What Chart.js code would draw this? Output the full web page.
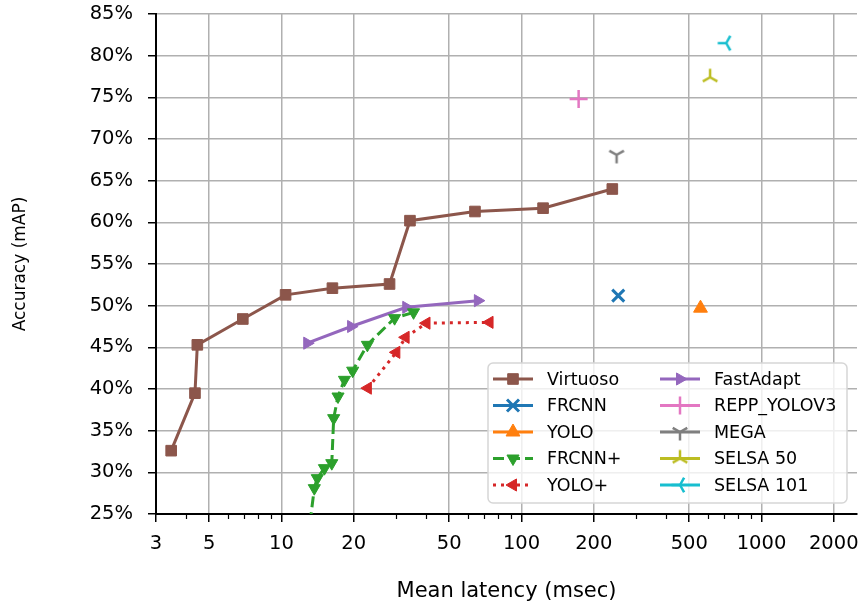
<!DOCTYPE html>
<html>
<head>
<meta charset="utf-8">
<script src="https://cdn.jsdelivr.net/npm/chart.js@4.4.0/dist/chart.umd.min.js"></script>
<style>
  html, body { margin: 0; padding: 0; background: #fff; }
  #wrap { width: 860px; height: 608px; }
</style>
</head>
<body>
<div id="wrap"><canvas id="myChart" width="860" height="608"></canvas></div>
<script>
// latency in msec, accuracy in % mAP
const virtuosoLatency = [3.47, 4.36, 4.46, 6.9, 10.4, 16.3, 28.2, 34.3, 64, 123, 239];
const virtuosoMap = [32.6, 39.5, 45.3, 48.4, 51.3, 52.1, 52.6, 60.2, 61.3, 61.7, 64.0];
const frcnnPlusLatency = [12.9, 13.7, 14.1, 15.1, 16.2, 16.5, 17.2, 18.3, 19.8, 22.8, 29.6, 35.5];
const frcnnPlusMap = [22.0, 28.1, 29.3, 30.5, 31.1, 36.5, 39.1, 41.1, 42.2, 45.3, 48.5, 49.2];
const yoloPlusLatency = [22.9, 30.1, 32.9, 40.2, 73.6];
const yoloPlusMap = [40.1, 44.4, 46.2, 47.9, 48.0];
const fastAdaptLatency = [12.8, 19.5, 33.1, 65.8];
const fastAdaptMap = [45.5, 47.5, 49.8, 50.6];
// single-point baselines: [latency, mAP]
const frcnn = [253, 51.2];
const yolo = [557, 49.7];
const repp = [173, 74.8];
const mega = [249, 68.1];
const selsa50 = [611, 77.4];
const selsa101 = [713, 81.5];

const xTicks = [3, 5, 10, 20, 50, 100, 200, 500, 1000, 2000];
const xMinorTicks = [4, 6, 7, 8, 9, 30, 40, 60, 70, 80, 90, 300, 400, 600, 700, 800, 900];

const FONT = 'DejaVu Sans';
Chart.defaults.font.family = FONT;
Chart.defaults.color = '#000';

function pts(xs, ys) {
	return xs.map((x, i) => ({ x: x, y: ys[i] }));
}

// matplotlib style "tri" marker (arms down / upper-left / upper-right)
function triMarker(color) {
	const c = document.createElement('canvas');
	c.width = 20; c.height = 20;
	const g = c.getContext('2d');
	g.strokeStyle = color;
	g.lineWidth = 2.5;
	g.beginPath();
	g.moveTo(10, 10); g.lineTo(10, 18.5);
	g.moveTo(10, 10); g.lineTo(10 - 7.3, 5.8);
	g.moveTo(10, 10); g.lineTo(10 + 7.3, 5.8);
	g.stroke();
	return c;
}

function series(label, color, data, opts) {
	return Object.assign({
		label: label,
		data: data,
		borderColor: color,
		backgroundColor: color,
		pointBackgroundColor: color,
		pointBorderColor: color,
		borderWidth: 3,
		pointBorderWidth: 1,
		pointRadius: 7,
		showLine: true,
		pointRotation: 0
	}, opts);
}

const datasets = [
	series('Virtuoso', '#8c564b', pts(virtuosoLatency, virtuosoMap), { pointStyle: 'rect', pointRadius: 7.5 }),
	series('FRCNN', '#1f77b4', [{ x: frcnn[0], y: frcnn[1] }], { pointStyle: 'crossRot', pointRadius: 8.5, pointBorderWidth: 3 }),
	series('YOLO', '#ff7f0e', [{ x: yolo[0], y: yolo[1] }], { pointStyle: 'triangle', pointRadius: 8 }),
	series('FRCNN+', '#2ca02c', pts(frcnnPlusLatency, frcnnPlusMap), { pointStyle: 'triangle', pointRotation: 180, borderDash: [11, 5], clip: 0 }),
	series('YOLO+', '#d62728', pts(yoloPlusLatency, yoloPlusMap), { pointStyle: 'triangle', pointRotation: -90, borderDash: [3, 5] }),
	series('FastAdapt', '#9467bd', pts(fastAdaptLatency, fastAdaptMap), { pointStyle: 'triangle', pointRotation: 90 }),
	series('REPP_YOLOV3', '#e377c2', [{ x: repp[0], y: repp[1] }], { pointStyle: 'cross', pointRadius: 9, pointBorderWidth: 2.5 }),
	series('MEGA', '#7f7f7f', [{ x: mega[0], y: mega[1] }], { pointStyle: triMarker('#7f7f7f') }),
	series('SELSA 50', '#bcbd22', [{ x: selsa50[0], y: selsa50[1] }], { pointStyle: triMarker('#bcbd22'), pointRotation: 180 }),
	series('SELSA 101', '#17becf', [{ x: selsa101[0], y: selsa101[1] }], { pointStyle: triMarker('#17becf'), pointRotation: 90 })
];

// minor tick marks on the log axis
const minorTicks = {
	id: 'minorTicks',
	afterDraw(chart) {
		const ctx = chart.ctx, xs = chart.scales.x;
		ctx.save();
		ctx.strokeStyle = '#000';
		ctx.lineWidth = 1.2;
		xMinorTicks.forEach(v => {
			const px = Math.round(xs.getPixelForValue(v)) + 0.5;
			ctx.beginPath();
			ctx.moveTo(px, xs.top);
			ctx.lineTo(px, xs.top + 5);
			ctx.stroke();
		});
		ctx.restore();
	}
};

// two-column legend inside the plot, lower right
const boxLegend = {
	id: 'boxLegend',
	afterDraw(chart) {
		const ctx = chart.ctx, area = chart.chartArea;
		const w = 359, h = 140;
		const x0 = area.right - 10 - w, y0 = area.bottom - 11 - h;
		ctx.save();
		ctx.beginPath();
		ctx.roundRect(x0, y0, w, h, 5);
		ctx.fillStyle = 'rgba(255,255,255,0.8)';
		ctx.fill();
		ctx.strokeStyle = '#d6d6d6';
		ctx.lineWidth = 1.5;
		ctx.stroke();
		ctx.font = '17.5px "' + FONT + '"';
		ctx.textBaseline = 'middle';
		chart.data.datasets.forEach((ds, i) => {
			const col = Math.floor(i / 5), row = i % 5;
			const lx = x0 + 5 + col * 167, ly = y0 + 16 + row * 26.5;
			ctx.beginPath();
			ctx.setLineDash(ds.borderDash || []);
			ctx.strokeStyle = ds.borderColor;
			ctx.lineWidth = ds.borderWidth;
			ctx.moveTo(lx, ly);
			ctx.lineTo(lx + 40, ly);
			ctx.stroke();
			ctx.setLineDash([]);
			ctx.fillStyle = ds.backgroundColor;
			ctx.lineWidth = ds.pointBorderWidth;
			Chart.helpers.drawPoint(ctx, {
				pointStyle: ds.pointStyle,
				rotation: ds.pointRotation,
				radius: ds.pointRadius,
				borderWidth: ds.pointBorderWidth
			}, lx + 20, ly);
			ctx.fillStyle = '#000';
			ctx.fillText(ds.label, lx + 54, ly + 1);
		});
		ctx.restore();
	}
};

new Chart(document.getElementById('myChart').getContext('2d'), {
	type: 'scatter',
	data: { datasets: datasets },
	options: {
		responsive: false,
		animation: false,
		events: [],
		layout: { autoPadding: false, padding: { left: 0, right: 3, top: 14, bottom: 0 } },
		plugins: { legend: { display: false }, tooltip: { enabled: false } },
		scales: {
			x: {
				type: 'logarithmic',
				min: 3,
				max: 2500,
				afterBuildTicks: scale => {
					scale.ticks = xTicks.map(v => ({ value: v }));
				},
				afterFit: scale => {
					scale.height = 94;
					scale.paddingLeft = 0;
					scale.paddingRight = 0;
				},
				ticks: {
					autoSkip: false,
					maxRotation: 0,
					padding: 10,
					font: { size: 19.5 },
					callback: v => String(v)
				},
				grid: { color: '#b0b0b0', lineWidth: 1.5, tickColor: '#000', tickLength: 8, tickWidth: 1.5 },
				border: { color: '#000', width: 2 },
				title: { display: true, text: 'Mean latency (msec)', font: { size: 21 }, padding: { top: 0, bottom: 4 } }
			},
			y: {
				min: 25,
				max: 85,
				afterFit: scale => {
					scale.width = 156;
					scale.paddingTop = 0;
					scale.paddingBottom = 0;
				},
				ticks: {
					stepSize: 5,
					padding: 15,
					font: { size: 19.5 },
					callback: v => v + '%'
				},
				grid: { color: '#b0b0b0', lineWidth: 1.5, tickColor: '#000', tickLength: 8, tickWidth: 1.5 },
				border: { color: '#000', width: 2 },
				title: { display: true, text: 'Accuracy (mAP)', font: { size: 17 }, padding: { top: 10, bottom: 0 } }
			}
		}
	},
	plugins: [minorTicks, boxLegend]
});
</script>
</body>
</html>
